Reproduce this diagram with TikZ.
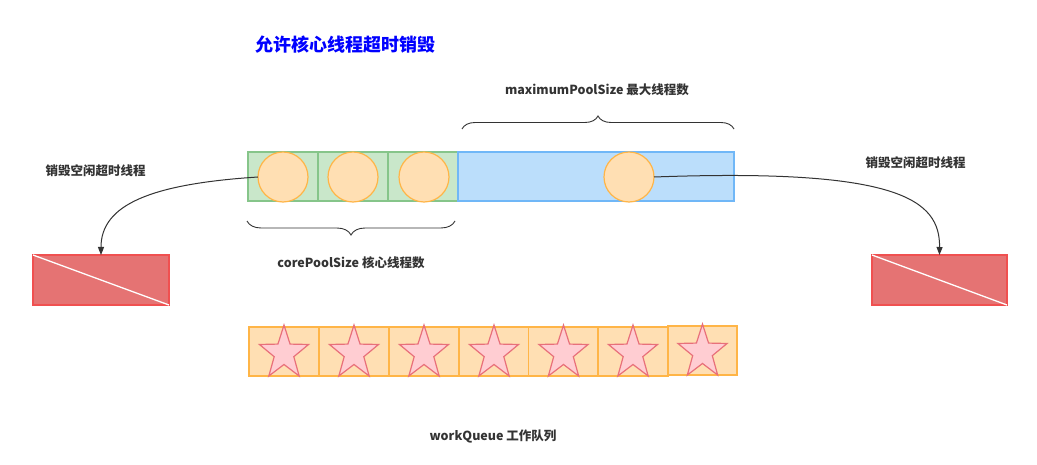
\documentclass[tikz,border=0pt]{standalone}
\usepackage{fontspec}
\setmainfont{Noto Sans CJK SC}
\usetikzlibrary{decorations.pathreplacing,arrows.meta}
\definecolor{txt}{HTML}{333333}
\definecolor{gfill}{HTML}{C9E7CA}
\definecolor{gline}{HTML}{86C58A}
\definecolor{bfill}{HTML}{BBDEFB}
\definecolor{bline}{HTML}{70B7F7}
\definecolor{ofill}{HTML}{FFDFB3}
\definecolor{oline}{HTML}{FFB547}
\definecolor{rfill}{HTML}{E57373}
\definecolor{rline}{HTML}{F05050}
\definecolor{sfill}{HTML}{FFCDD2}
\definecolor{sline}{HTML}{E8707A}
\definecolor{ttl}{HTML}{0000FF}
\tikzset{
  greencell/.style={draw=gline,fill=gfill,line width=1.2pt,minimum width=70pt,minimum height=49pt,inner sep=0pt,outer sep=0pt},
  bluecell/.style={draw=bline,fill=bfill,line width=1.2pt,minimum width=276pt,minimum height=49pt,inner sep=0pt,outer sep=0pt},
  thread/.style={circle,draw=oline,fill=ofill,line width=1.2pt,minimum size=50pt,inner sep=0pt,outer sep=0pt},
  redbox/.style={draw=rline,fill=rfill,line width=1.2pt,minimum width=136pt,minimum height=50pt,inner sep=0pt,outer sep=0pt},
  qcell/.style={draw=oline,fill=ofill,line width=1.2pt,minimum width=70pt,minimum height=49pt,inner sep=0pt,outer sep=0pt},
  lbl/.style={text=txt,font=\fontsize{12.5}{15}\selectfont\bfseries,inner sep=0pt},
  conn/.style={draw=txt,line width=1pt,-{Triangle[length=8pt,width=6pt]}},
  bracest/.style={draw=txt,line width=0.9pt,decorate},
  starst/.style={draw=sline,fill=sfill,line width=1.2pt,line join=miter},
  starpic/.pic={\draw[starst] (0,-28.2) \foreach \j in {1,...,9}{ -- ({25.8*(mod(\j,2)==0?1:0.4)*cos(-90+36*\j)},{28.2*(mod(\j,2)==0?1:0.4)*sin(-90+36*\j)}) } -- cycle;}
}
\begin{document}
\begin{tikzpicture}[x=1pt,y=-1pt]
\fill[white] (0,0) rectangle (1037,465);
\useasboundingbox (0,0) rectangle (1037,465);

\node[text=ttl,font=\fontsize{18}{22}\selectfont\bfseries,inner sep=0pt] (title) at (345,45) {允许核心线程超时销毁};

% pool
\node[greencell] (g1) at (283,176.5) {};
\node[greencell] (g2) at (353,176.5) {};
\node[greencell] (g3) at (423,176.5) {};
\node[bluecell] (b1) at (596,176.5) {};
\node[thread] (c1) at (283,177) {};
\node[thread] (c2) at (353,177) {};
\node[thread] (c3) at (424,177) {};
\node[thread] (c4) at (629,177) {};

% braces
\coordinate (ub1) at (462,129);
\coordinate (ub2) at (734,129);
\draw[bracest,decoration={brace,amplitude=13pt}] (ub1) -- (ub2);
\node[lbl] (maxl) at (597,90) {maximumPoolSize 最大线程数};
\coordinate (lb1) at (247,221);
\coordinate (lb2) at (455,221);
\draw[bracest,decoration={brace,mirror,amplitude=14pt}] (lb1) -- (lb2);
\node[lbl] (corel) at (351,263) {corePoolSize 核心线程数};

% destroyed
\node[redbox] (r1) at (101,280) {};
\draw[white,line width=1.3pt] (r1.north west) -- (r1.south east);
\node[redbox,minimum width=135pt] (r2) at (939.5,280) {};
\draw[white,line width=1.3pt] (r2.north west) -- (r2.south east);
\node[lbl] (dl) at (95.5,171) {销毁空闲超时线程};
\node[lbl] (dr) at (915.5,163) {销毁空闲超时线程};
\draw[conn] (c1.west) .. controls (150,184) and (101,205) .. (r1.north);
\draw[conn] (c4.east) .. controls (900,168) and (940,200) .. (r2.north);

% queue
\node[qcell] (q1) at (284,351.5) {};
\node[qcell] (q2) at (354,351.5) {};
\node[qcell] (q3) at (424,351.5) {};
\node[qcell] (q4) at (494,351.5) {};
\node[qcell] (q5) at (563.5,351.5) {};
\node[qcell] (q6) at (633,351.5) {};
\node[qcell,minimum width=69pt] (q7) at (702.5,350.5) {};
\foreach \q in {q1,q2,q3,q4,q5,q6,q7}{\path (\q.center) ++(0,1.7) pic{starpic};}
\node[lbl] (wq) at (493,436) {workQueue 工作队列};
\end{tikzpicture}
\end{document}
